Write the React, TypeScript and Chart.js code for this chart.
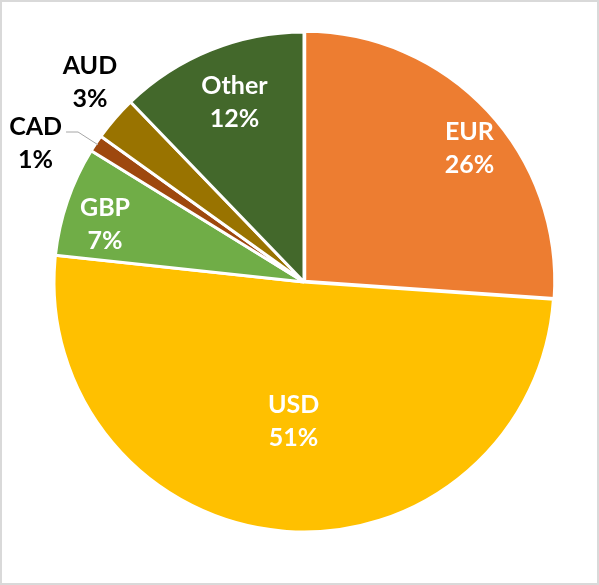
import React, { useEffect, useRef } from "react";
import { Chart, registerables } from "chart.js";

Chart.register(...registerables);

const categories = ["EUR", "USD", "GBP", "CAD", "AUD", "Other"];
const shares = [26.1, 50.6, 7.1, 1.1, 2.9, 12.2];
const colors = ["#ED7D31", "#FFC000", "#70AD47", "#9E480E", "#997300", "#43682B"];
const explode = [4, 0, 0, 0, 0, 0];

// label placement: radial factor of radius, angle delta (deg) from slice mid-angle, inside/outside, leader
const placement = [
  { f: 0.854, da: 3.8, inside: true, leader: false },
  { f: 0.554, da: -0.7, inside: true, leader: false },
  { f: 0.83, da: -2.4, inside: true, leader: false },
  { f: 1.21, da: -6.2, inside: false, leader: true },
  { f: 1.172, da: 2.2, inside: false, leader: false },
  { f: 0.774, da: 0.9, inside: true, leader: false },
];

const FONT = "bold 25px Lato";
const LINE_GAP = 33;

const labelPlugin = {
  id: "sliceLabels",
  afterDatasetsDraw(chart: any) {
    const ctx = chart.ctx;
    const meta = chart.getDatasetMeta(0);
    const data = chart.data.datasets[0].data as number[];
    const total = data.reduce((a, b) => a + b, 0);
    ctx.save();
    ctx.font = FONT;
    ctx.textAlign = "center";
    ctx.textBaseline = "alphabetic";
    meta.data.forEach((arc: any, i: number) => {
      const p = placement[i];
      const { x, y, startAngle, endAngle, outerRadius } = arc.getProps(
        ["x", "y", "startAngle", "endAngle", "outerRadius"],
        true
      );
      const mid = (startAngle + endAngle) / 2;
      const a = mid + (p.da * Math.PI) / 180;
      const cx = x + Math.cos(a) * outerRadius * p.f;
      const cy = y + Math.sin(a) * outerRadius * p.f;
      const name = chart.data.labels[i];
      const pct = Math.round((data[i] / total) * 100) + "%";
      const cap = 9;
      ctx.fillStyle = p.inside ? "#ffffff" : "#000000";
      ctx.fillText(name, cx, cy - LINE_GAP / 2 + cap);
      ctx.fillText(pct, cx, cy + LINE_GAP / 2 + cap);
      if (p.leader) {
        const w = ctx.measureText(name).width;
        const sx = cx + w / 2 + 4;
        const sy = cy - LINE_GAP / 2 + 6;
        const kx = sx + 12;
        const ex = x + Math.cos(mid) * outerRadius * 0.99;
        const ey = y + Math.sin(mid) * outerRadius * 0.99;
        ctx.strokeStyle = "#a6a6a6";
        ctx.lineWidth = 1;
        ctx.beginPath();
        ctx.moveTo(sx, sy);
        ctx.lineTo(kx, sy);
        ctx.lineTo(ex, ey);
        ctx.stroke();
      }
    });
    ctx.restore();
  },
};

export default function App() {
  const ref = useRef<HTMLCanvasElement | null>(null);
  useEffect(() => {
    document.body.style.margin = "0";
    const canvas = ref.current;
    if (!canvas) return;
    const chart = new Chart(canvas, {
      type: "pie",
      data: {
        labels: categories,
        datasets: [
          {
            data: shares,
            backgroundColor: colors,
            borderColor: "#ffffff",
            borderWidth: 3,
            offset: explode,
          },
        ],
      },
      options: {
        responsive: false,
        animation: false,
        radius: 250,
        layout: { padding: { left: 9, right: 0, top: 0, bottom: 21 } },
        plugins: {
          legend: { display: false },
          tooltip: { enabled: false },
        },
      } as any,
      plugins: [labelPlugin],
    });
    return () => chart.destroy();
  }, []);
  return (
    <div style={{ position: "absolute", left: 0, top: 0, width: 599, height: 585, background: "#ffffff" }}>
      <canvas ref={ref} width={599} height={585} style={{ position: "absolute", left: 0, top: 0 }} />
      <div
        style={{
          position: "absolute",
          left: 0,
          top: 0,
          width: 599,
          height: 585,
          boxSizing: "border-box",
          border: "2px solid #d9d9d9",
          pointerEvents: "none",
        }}
      />
    </div>
  );
}
